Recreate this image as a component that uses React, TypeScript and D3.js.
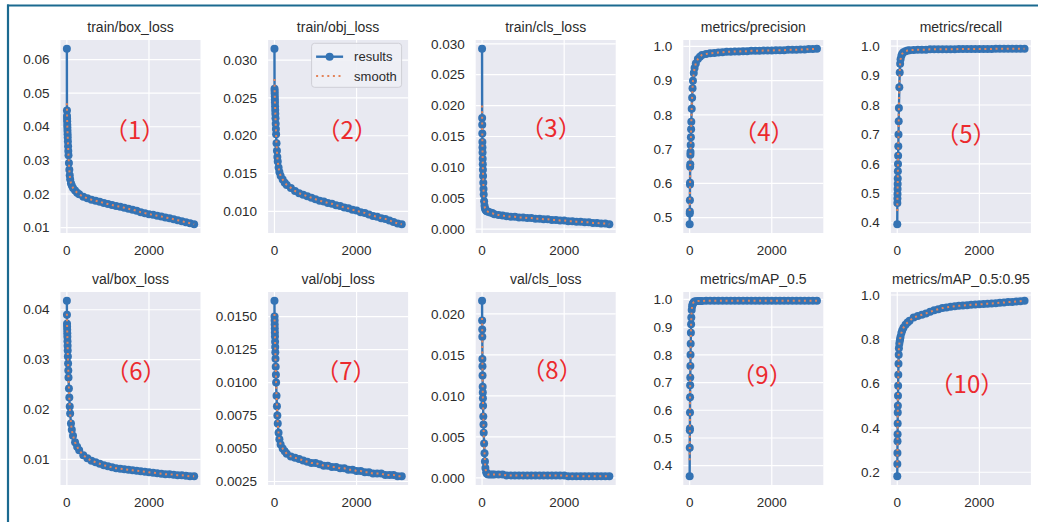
import React from 'react';
import * as d3 from 'd3';

const epochs = [0, 2, 4, 6, 8, 10, 12, 15, 18, 21, 25, 30, 35, 40, 50, 60, 70, 80, 100, 120, 150, 200, 250,
  300, 400, 500, 600, 700, 800, 900, 1000, 1100, 1200, 1300, 1400, 1500, 1600, 1700, 1800, 1900, 2000,
  2100, 2200, 2300, 2400, 2500, 2600, 2700, 2800, 2900, 3000, 3100];

const titles = ['train/box_loss', 'train/obj_loss', 'train/cls_loss', 'metrics/precision', 'metrics/recall',
  'val/box_loss', 'val/obj_loss', 'val/cls_loss', 'metrics/mAP_0.5', 'metrics/mAP_0.5:0.95'];

const labels = ['（1）', '（2）', '（3）', '（4）', '（5）', '（6）', '（7）', '（8）', '（9）', '（10）'];

const trainBoxLoss = [.0632, .0448, .0432, .0424, .0416, .0406, .0398, .0388, .0378, .0368, .0356, .0342, .0328, .0315, .0292, .0272, .0256, .0244, .0232, .0225, .0218, .0210, .0204,
  .0199, .0192, .0187, .0183, .0180, .0177, .0173, .0170, .0167, .0164, .0162, .0159, .0156, .0153, .0150, .0146, .0143, .0140, .0138, .0135, .0133, .0130, .0128, .0125, .0122, .0119, .0116, .0113, .0110];
const trainObjLoss = [.0315, .0262, .0259, .0256, .0252, .0248, .0244, .0239, .0234, .0229, .0223, .0216, .0209, .0202, .0190, .0180, .0172, .0166, .0158, .0152, .0147, .0142, .0138,
  .0135, .0131, .0127, .0124, .0122, .0120, .0118, .0116, .0114, .0113, .0111, .0110, .0108, .0107, .0105, .0104, .0102, .0101, .0099, .0098, .0096, .0094, .0093, .0091, .0090, .0088, .0086, .0084, .0083];
const trainClsLoss = [.0292, .0180, .0169, .0155, .0141, .0132, .0124, .0114, .0105, .0096, .0086, .0075, .0065, .0056, .0045, .0038, .0034, .0032, .0030, .0029, .0028, .0027, .0026,
  .0024, .0023, .0022, .0021, .0020, .0020, .0019, .0019, .0018, .0018, .0017, .0017, .0016, .0016, .0015, .0015, .0014, .0014, .0013, .0013, .0012, .0012, .0011, .0011, .0010, .0010, .0009, .0009, .0008];
const precision = [.481, .512, .518, .551, .597, .602, .649, .656, .684, .692, .712, .735, .758, .780, .818, .850, .878, .900, .922, .937, .950, .963, .970,
  .975, .978, .980, .981, .982, .983, .984, .984, .985, .985, .986, .986, .987, .987, .987, .988, .988, .988, .989, .989, .989, .990, .990, .990, .991, .991, .992, .992, .993];
const recall = [.395, .467, .482, .498, .515, .532, .550, .575, .600, .628, .660, .700, .745, .790, .860, .910, .940, .955, .967, .974, .979, .983, .985,
  .986, .987, .988, .988, .988, .989, .989, .989, .989, .989, .989, .989, .990, .990, .990, .990, .990, .990, .990, .990, .990, .991, .991, .991, .991, .991, .991, .991, .991];
const valBoxLoss = [.0418, .0390, .0372, .0366, .0360, .0353, .0346, .0337, .0328, .0318, .0306, .0292, .0278, .0264, .0242, .0224, .0206, .0192, .0172, .0159, .0147, .0134, .0125,
  .0118, .0108, .0102, .0097, .0094, .0091, .0088, .0086, .0084, .0082, .0081, .0080, .0079, .0078, .0077, .0076, .0075, .0074, .0073, .0072, .0071, .0070, .0070, .0069, .0068, .0068, .0067, .0066, .0066];
const valObjLoss = [.0162, .0150, .0147, .0144, .0141, .0138, .0135, .0131, .0127, .0123, .0118, .0112, .0106, .0100, .0090, .0082, .0075, .0069, .0062, .0057, .0053, .0050, .0048,
  .0046, .0044, .0043, .0042, .0041, .0040, .0039, .0039, .0038, .0037, .0037, .0036, .0036, .0035, .0035, .0034, .0034, .0033, .0033, .0032, .0032, .0031, .0031, .0031, .0030, .0030, .0030, .0029, .0029];
const valClsLoss = [.0216, .0192, .0181, .0172, .0145, .0136, .0125, .0111, .0104, .0097, .0088, .0075, .0065, .0055, .0042, .0030, .0020, .0012, .0007, .0005, .0004, .0004, .0004,
  .0004, .0004, .0004, .0003, .0003, .0003, .0003, .0003, .0003, .0003, .0003, .0003, .0003, .0003, .0003, .0003, .0003, .0003, .0002, .0002, .0002, .0002, .0002, .0002, .0002, .0002, .0002, .0002, .0002];
const mAP50 = [.362, .465, .528, .534, .592, .647, .690, .718, .760, .800, .840, .880, .910, .935, .962, .975, .982, .986, .990, .992, .993, .994, .994,
  .994, .995, .995, .995, .995, .995, .995, .995, .995, .995, .995, .995, .995, .995, .995, .995, .995, .995, .995, .995, .995, .995, .995, .995, .995, .995, .995, .995, .995];
const mAP5095 = [.182, .237, .287, .340, .372, .420, .470, .500, .545, .590, .640, .690, .730, .760, .780, .792, .802, .812, .828, .840, .852, .866, .876,
  .884, .899, .905, .911, .917, .924, .931, .936, .941, .944, .947, .949, .951, .953, .954, .956, .957, .958, .959, .961, .962, .963, .965, .966, .968, .969, .971, .972, .974];

const results = [trainBoxLoss, trainObjLoss, trainClsLoss, precision, recall, valBoxLoss, valObjLoss, valClsLoss, mAP50, mAP5095];

// first points of the smoothed curve (the rest follows the results)
const smoothHeads = [
  [.0470, .0455, .0440, .0428],
  [.0275, .0266, .0260, .0256],
  [.0200, .0180, .0165, .0152],
  [.520, .530, .550, .570],
  [.440, .460, .480, .500],
  [.0392, .0385, .0375, .0367],
  [.0152, .0149, .0146, .0143],
  [.0195, .0188, .0180, .0170],
  [.420, .460, .500, .530],
  [.220, .250, .280, .320],
];

const yTicks = [
  [0.01, 0.02, 0.03, 0.04, 0.05, 0.06],
  [0.010, 0.015, 0.020, 0.025, 0.030],
  [0.000, 0.005, 0.010, 0.015, 0.020, 0.025, 0.030],
  [0.5, 0.6, 0.7, 0.8, 0.9, 1.0],
  [0.4, 0.5, 0.6, 0.7, 0.8, 0.9, 1.0],
  [0.01, 0.02, 0.03, 0.04],
  [0.0025, 0.0050, 0.0075, 0.0100, 0.0125, 0.0150],
  [0.000, 0.005, 0.010, 0.015, 0.020],
  [0.4, 0.5, 0.6, 0.7, 0.8, 0.9, 1.0],
  [0.2, 0.4, 0.6, 0.8, 1.0],
];
const yDecimals = [2, 3, 3, 1, 1, 2, 4, 3, 1, 1];
const xTicks = [0, 2000];
const legendLabels = ['results', 'smooth'];

// annotation positions, as fractions of each axes box
const labelPos = [[0.53, 0.466], [0.564, 0.47], [0.538, 0.456], [0.576, 0.477], [0.536, 0.49],
  [0.539, 0.41], [0.556, 0.41], [0.545, 0.404], [0.562, 0.43], [0.543, 0.477]];

const BLUE = '#3473b4';
const ORANGE = '#e3845a';
const BG = '#e8e9f1';
const TEXT = '#2b2b2b';
const FONT = '"Liberation Sans", Arial, sans-serif';
const R = 4.0;

const PW = 140;
const PH = 193;
const colLeft = (c: number) => 60.5 + c * 207.6;
const rowTop = [40, 292];

function Panel({ i }: { i: number }) {
  const col = i % 5;
  const row = Math.floor(i / 5);
  const left = colLeft(col);
  const top = rowTop[row];
  const vals = results[i];
  const [x0, x1] = d3.extent(epochs) as [number, number];
  const xr = x1 - x0;
  const x = d3.scaleLinear().domain([x0 - 0.05 * xr, x1 + 0.05 * xr]).range([left, left + PW]);
  const [y0, y1] = d3.extent(vals) as [number, number];
  const yr = y1 - y0;
  const y = d3.scaleLinear().domain([y0 - 0.05 * yr, y1 + 0.05 * yr]).range([top + PH, top]);
  const pts: [number, number][] = epochs.map((e, k) => [e, vals[k]]);
  const head = smoothHeads[i];
  const sm: [number, number][] = epochs.map((e, k) => [e, k < head.length ? head[k] : vals[k]]);
  const line = d3.line<[number, number]>().x(d => x(d[0])).y(d => y(d[1]));
  const fmt = d3.format(`.${yDecimals[i]}f`);
  const clipId = `clip${i}`;
  const [fx, fy] = labelPos[i];
  return (
    <g>
      <defs>
        <clipPath id={clipId}>
          <rect x={left} y={top} width={PW} height={PH} />
        </clipPath>
      </defs>
      <rect x={left} y={top} width={PW} height={PH} fill={BG} />
      {yTicks[i].map(t => (
        <line key={'gy' + t} x1={left} x2={left + PW} y1={y(t)} y2={y(t)} stroke="#fff" strokeWidth={1.2} />
      ))}
      {xTicks.map(t => (
        <line key={'gx' + t} x1={x(t)} x2={x(t)} y1={top} y2={top + PH} stroke="#fff" strokeWidth={1.2} />
      ))}
      <g clipPath={`url(#${clipId})`}>
        <path d={line(pts) || ''} fill="none" stroke={BLUE} strokeWidth={2.4} />
        {pts.map((d, k) => (
          <circle key={k} cx={x(d[0])} cy={y(d[1])} r={R} fill={BLUE} />
        ))}
        <path d={line(sm) || ''} fill="none" stroke={ORANGE} strokeWidth={2} strokeDasharray="2 3.6" />
      </g>
      {yTicks[i].map(t => (
        <text key={'ty' + t} x={left - 11} y={y(t)} dy="0.35em" textAnchor="end" fontSize={13.5} fill={TEXT} fontFamily={FONT}>
          {fmt(t)}
        </text>
      ))}
      {xTicks.map(t => (
        <text key={'tx' + t} x={x(t)} y={top + PH + 22} textAnchor="middle" fontSize={13.5} fill={TEXT} fontFamily={FONT}>
          {t}
        </text>
      ))}
      <text x={left + PW / 2} y={top - 8.5} textAnchor="middle" fontSize={14} fill={TEXT} fontFamily={FONT}>
        {titles[i]}
      </text>
      <text x={left + fx * PW} y={top + fy * PH} dy="0.36em" textAnchor="middle" fontSize={24} fill="#ec2a2e"
        fontFamily='"Noto Sans CJK SC", sans-serif'>
        {labels[i]}
      </text>
      {i === 1 && (
        <g>
          <rect x={left + PW - 96.5} y={top + 3.3} width={90} height={44} rx={3} fill="#eeeff5" fillOpacity={0.9} stroke="#cfcfd6" strokeWidth={1} />
          <line x1={left + PW - 92} x2={left + PW - 65} y1={top + 16.7} y2={top + 16.7} stroke={BLUE} strokeWidth={2.4} />
          <circle cx={left + PW - 78.5} cy={top + 16.7} r={R} fill={BLUE} />
          <line x1={left + PW - 92} x2={left + PW - 65} y1={top + 36} y2={top + 36} stroke={ORANGE} strokeWidth={2} strokeDasharray="2 3.6" />
          <text x={left + PW - 54} y={top + 21.3} fontSize={13} fill={TEXT} fontFamily={FONT}>{legendLabels[0]}</text>
          <text x={left + PW - 54} y={top + 41} fontSize={13} fill={TEXT} fontFamily={FONT}>{legendLabels[1]}</text>
        </g>
      )}
    </g>
  );
}

export default function App() {
  return (
    <div style={{ position: 'absolute', left: 0, top: 0 }}>
      <svg width={1038} height={522} style={{ display: 'block', background: '#fff' }}>
        <line x1={7} x2={1038} y1={5.5} y2={5.5} stroke="#1b6a90" strokeWidth={2.2} />
        <line x1={8} x2={8} y1={4.5} y2={522} stroke="#1b6a90" strokeWidth={2.2} />
        {titles.map((_, i) => <Panel key={i} i={i} />)}
      </svg>
    </div>
  );
}
